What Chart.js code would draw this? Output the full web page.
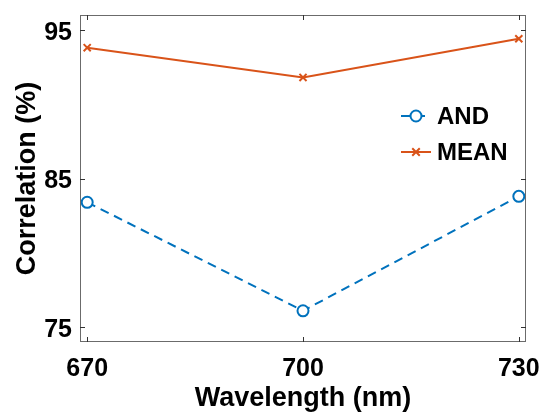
<!DOCTYPE html>
<html>
<head>
<meta charset="utf-8">
<script src="https://cdn.jsdelivr.net/npm/chart.js@4"></script>
<style>
  html, body { margin: 0; padding: 0; background: #fff; }
  #wrap { width: 542px; height: 413px; }
</style>
</head>
<body>
<div id="wrap"><canvas id="chart"></canvas></div>
<script>
// data
const wavelengths = [670, 700, 730];
const andValues = [83.4, 76.1, 83.8];
const meanValues = [93.8, 91.8, 94.4];
const xTicks = [670, 700, 730];
const yTicks = [75, 85, 95];

const blue = '#0072BD';
const orange = '#D95319';
const axisGrey = '#6b6b6b';
const fontFam = '"Liberation Sans", Arial, sans-serif';

// box round the plot with inward ticks on all four sides
const boxPlugin = {
  id: 'box',
  afterDatasetsDraw(chart) {
    const { ctx, chartArea: a, scales: { x, y } } = chart;
    ctx.save();
    ctx.strokeStyle = axisGrey;
    ctx.lineWidth = 1;
    ctx.strokeRect(a.left + 0.5, a.top + 0.5, a.right - a.left - 1, a.bottom - a.top - 1);
    ctx.strokeStyle = '#333';
    ctx.beginPath();
    xTicks.forEach(v => {
      const px = Math.round(x.getPixelForValue(v)) + 0.5;
      ctx.moveTo(px, a.bottom); ctx.lineTo(px, a.bottom - 5);
      ctx.moveTo(px, a.top); ctx.lineTo(px, a.top + 5);
    });
    yTicks.forEach(v => {
      const py = Math.round(y.getPixelForValue(v)) + 0.5;
      ctx.moveTo(a.left, py); ctx.lineTo(a.left + 5, py);
      ctx.moveTo(a.right, py); ctx.lineTo(a.right - 5, py);
    });
    ctx.stroke();
    ctx.restore();
  }
};

// MATLAB-like legend: line sample + marker, then label
const legendPlugin = {
  id: 'matLegend',
  afterDraw(chart) {
    const ctx = chart.ctx;
    const x0 = 401, x1 = 431, textX = 437;
    let yy = 116;
    ctx.save();
    chart.data.datasets.forEach(ds => {
      ctx.strokeStyle = ds.borderColor;
      ctx.lineWidth = 2;
      ctx.setLineDash(ds.borderDash || []);
      ctx.beginPath();
      ctx.moveTo(x0, yy); ctx.lineTo(x1, yy);
      ctx.stroke();
      ctx.setLineDash([]);
      const mx = (x0 + x1) / 2;
      if (ds.pointStyle === 'circle') {
        ctx.fillStyle = '#fff';
        ctx.beginPath();
        ctx.arc(mx, yy, ds.pointRadius, 0, Math.PI * 2);
        ctx.fill();
        ctx.stroke();
      } else {
        const r = ds.pointRadius * 0.75;
        ctx.beginPath();
        ctx.moveTo(mx - r, yy - r); ctx.lineTo(mx + r, yy + r);
        ctx.moveTo(mx - r, yy + r); ctx.lineTo(mx + r, yy - r);
        ctx.stroke();
      }
      ctx.fillStyle = '#000';
      ctx.font = 'bold 24px ' + fontFam;
      ctx.textBaseline = 'middle';
      ctx.textAlign = 'left';
      ctx.fillText(ds.label, textX, yy + 1);
      yy += 36;
    });
    ctx.restore();
  }
};

new Chart(document.getElementById('chart'), {
  type: 'line',
  data: {
    datasets: [
      {
        label: 'AND',
        data: wavelengths.map((w, i) => ({ x: w, y: andValues[i] })),
        borderColor: blue,
        borderWidth: 2,
        borderDash: [9, 6],
        pointStyle: 'circle',
        pointRadius: 5.5,
        pointBorderWidth: 2,
        pointBorderColor: blue,
        pointBackgroundColor: '#fff',
        tension: 0
      },
      {
        label: 'MEAN',
        data: wavelengths.map((w, i) => ({ x: w, y: meanValues[i] })),
        borderColor: orange,
        borderWidth: 2,
        pointStyle: 'crossRot',
        pointRadius: 5,
        pointBorderWidth: 2,
        pointBorderColor: orange,
        tension: 0
      }
    ]
  },
  options: {
    responsive: true,
    maintainAspectRatio: false,
    animation: false,
    layout: { padding: { top: 15, right: 16, left: 0, bottom: 0 } },
    plugins: {
      legend: { display: false },
      tooltip: { enabled: false }
    },
    scales: {
      x: {
        type: 'linear',
        min: 669,
        max: 731,
        afterBuildTicks: s => { s.ticks = xTicks.map(v => ({ value: v })); },
        afterFit: s => { s.height = 71; s.paddingLeft = 0; s.paddingRight = 0; },
        grid: { display: false, drawTicks: false },
        border: { display: false },
        ticks: {
          color: '#000',
          padding: 12,
          maxRotation: 0,
          font: { family: fontFam, size: 25, weight: 'bold' }
        },
        title: {
          display: true,
          text: 'Wavelength (nm)',
          color: '#000',
          padding: { top: 0, bottom: 1 },
          font: { family: fontFam, size: 27, weight: 'bold', lineHeight: 1 }
        }
      },
      y: {
        min: 74,
        max: 96,
        afterBuildTicks: s => { s.ticks = yTicks.map(v => ({ value: v })); },
        afterFit: s => { s.width = 80; s.paddingTop = 0; s.paddingBottom = 0; },
        grid: { display: false, drawTicks: false },
        border: { display: false },
        ticks: {
          color: '#000',
          padding: 8,
          labelOffset: 3,
          font: { family: fontFam, size: 25, weight: 'bold' }
        },
        title: {
          display: true,
          text: 'Correlation (%)',
          color: '#000',
          padding: { top: 14, bottom: 0 },
          font: { family: fontFam, size: 27, weight: 'bold', lineHeight: 1 }
        }
      }
    }
  },
  plugins: [boxPlugin, legendPlugin]
});
</script>
</body>
</html>
